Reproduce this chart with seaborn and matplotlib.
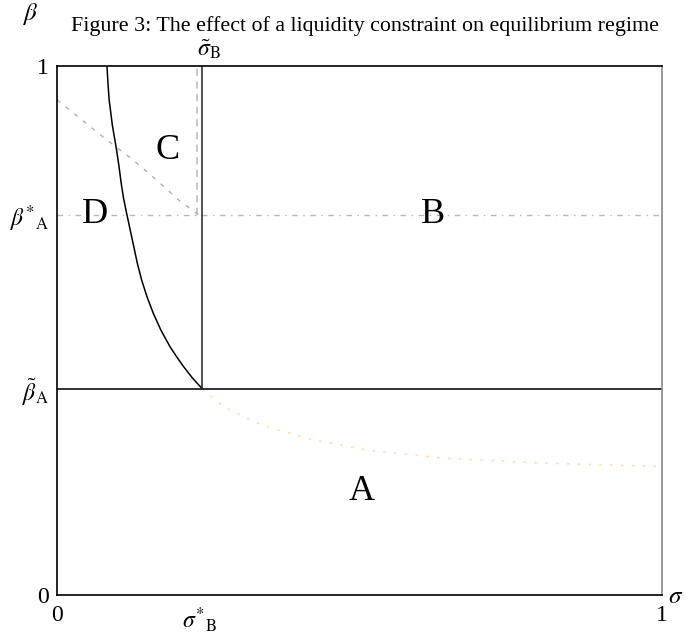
import matplotlib
matplotlib.use('Agg')
import matplotlib.pyplot as plt
import seaborn as sns

# Key thresholds
SIGMA_STAR_B = 0.236
SIGMA_TILDE_B = 0.236
BETA_STAR_A = 0.718
BETA_TILDE_A = 0.39

# Solid boundary curve (C/D vs A/B region)
curve_sigma = [0.0826, 0.0842, 0.0862, 0.0915, 0.0985, 0.1025, 0.106, 0.110, 0.115, 0.121,
               0.127, 0.133, 0.140, 0.149, 0.159, 0.172, 0.187, 0.198, 0.209, 0.224, 0.240]
curve_beta = [1.0, 0.968, 0.936, 0.888, 0.841, 0.810, 0.779, 0.750, 0.722, 0.690,
              0.658, 0.626, 0.595, 0.563, 0.533, 0.500, 0.469, 0.450, 0.432, 0.410, 0.390]

# Gray dashed diagonal (C vs D)
diag_sigma = [0.0, 0.0326, 0.0793, 0.126, 0.157, 0.203, 0.235]
diag_beta = [0.936, 0.906, 0.863, 0.822, 0.792, 0.745, 0.718]

# Faint orange dotted curve in region A
orange_sigma = [0.240, 0.275, 0.338, 0.424, 0.512, 0.644, 0.809, 1.0]
orange_beta = [0.390, 0.356, 0.321, 0.293, 0.274, 0.258, 0.249, 0.243]

# Region labels
region_names = ['A', 'B', 'C', 'D']
region_sigma = [0.503, 0.621, 0.183, 0.063]
region_beta = [0.195, 0.72, 0.84, 0.72]

x_ticks = [0, SIGMA_STAR_B, 1]
x_ticklabels = ['0', r'$\sigma^{*}{}_{\mathrm{B}}$', '1']
y_ticks = [0, BETA_TILDE_A, BETA_STAR_A, 1]
y_ticklabels = ['0', r'$\tilde{\beta}_{\mathrm{A}}$', r'$\beta^{*}{}_{\mathrm{A}}$', '1']

sns.set_theme(style='white')
plt.rcParams['font.family'] = ['Liberation Serif', 'DejaVu Serif']
plt.rcParams['mathtext.fontset'] = 'stix'
plt.rcParams['text.color'] = 'black'
plt.rcParams['xtick.color'] = 'black'
plt.rcParams['ytick.color'] = 'black'

fig = plt.figure(figsize=(6.97, 6.34), dpi=100)
ax = fig.add_axes([57 / 697, 1 - 595 / 634, 605 / 697, 529 / 634])

# boundaries
ax.plot([0, 1], [BETA_STAR_A, BETA_STAR_A], color='#b8b8b8', lw=1.0, ls=(0, (4, 4, 1, 4)))
ax.plot([SIGMA_TILDE_B - 0.005, SIGMA_TILDE_B - 0.005], [BETA_STAR_A, 1.0], color='#c4c4c4', lw=1.3, ls=(0, (4, 3)))
sns.lineplot(x=diag_sigma, y=diag_beta, ax=ax, color='#b0b0b0', lw=1.0, linestyle=(0, (3, 5)), sort=False)
sns.lineplot(x=orange_sigma, y=orange_beta, ax=ax, color='#ffdcb8', lw=1.2, linestyle=(0, (1.5, 5)), sort=False)
sns.lineplot(x=curve_sigma, y=curve_beta, ax=ax, color='black', lw=1.1, sort=False)
ax.plot([0, 1], [BETA_TILDE_A, BETA_TILDE_A], color='#222222', lw=1.3)
ax.plot([0.240, 0.240], [BETA_TILDE_A, 1.0], color='#222222', lw=1.1)

for name, sx, by in zip(region_names, region_sigma, region_beta):
    ax.text(sx, by, name, fontsize=26, ha='center', va='center', color='black')

ax.set_xlim(0, 1)
ax.set_ylim(0, 1)
ax.set_xticks(x_ticks)
ax.set_xticklabels(x_ticklabels, fontsize=17)
ax.set_yticks(y_ticks)
ax.set_yticklabels(y_ticklabels, fontsize=17)
ax.tick_params(axis='both', length=0, pad=6)
ax.tick_params(axis='x', pad=7)
for side in ['left', 'bottom', 'top']:
    ax.spines[side].set_color('black')
    ax.spines[side].set_linewidth(1.2)
ax.spines['right'].set_color('#888888')
ax.spines['right'].set_linewidth(1.2)

ax.text(SIGMA_TILDE_B + 0.015, 1.01, r'$\tilde{\sigma}_{\mathrm{B}}$', fontsize=17, ha='center', va='bottom')
fig.text(676 / 697, 1 - 597 / 634, r'$\sigma$', fontsize=18, ha='center', va='center')
fig.text(30 / 697, 1 - 14 / 634, r'$\beta$', fontsize=18, ha='center', va='center')
fig.text(365 / 697, 1 - 26 / 634, 'Figure 3: The effect of a liquidity constraint on equilibrium regime',
         fontsize=15.8, ha='center', va='center')

fig.savefig('out.png', dpi=100)
